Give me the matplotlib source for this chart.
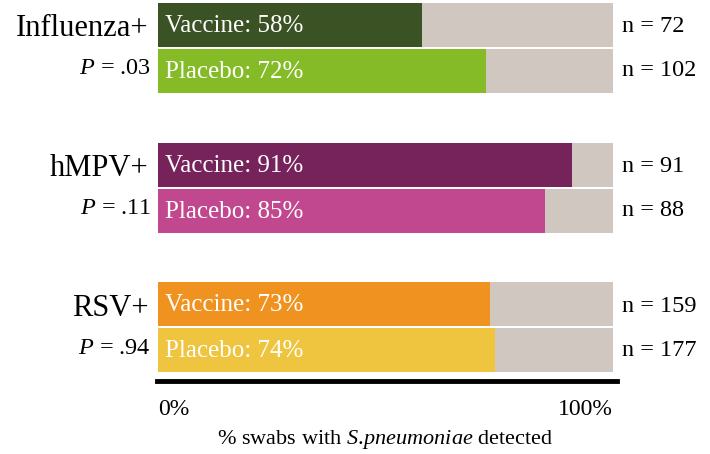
import matplotlib.pyplot as plt

# Datos
grupos = ['Influenza+', 'hMPV+', 'RSV+']
valores_p = ['.03', '.11', '.94']
vacuna = [58, 91, 73]
placebo = [72, 85, 74]
n_vacuna = [72, 91, 159]
n_placebo = [102, 88, 177]
color_vacuna = ['#3b5224', '#76235c', '#ef921f']
color_placebo = ['#84bb27', '#c1488f', '#efc43e']
gris = '#d0c8c0'

plt.rcParams['font.family'] = ['Liberation Serif', 'DejaVu Serif']
plt.rcParams['mathtext.fontset'] = 'custom'
plt.rcParams['mathtext.rm'] = 'Liberation Serif'
plt.rcParams['mathtext.it'] = 'Liberation Serif:italic'

fig = plt.figure(figsize=(7.10, 4.54), dpi=100)
# eje en coordenadas de pixel verticales
ax = fig.add_axes([158 / 710, 0, 455 / 710, 1])
ax.set_xlim(0, 100)
ax.set_ylim(454, 0)

alto = 44
for i, g in enumerate(grupos):
    top = 3 + i * 139.5
    y_vac = top + 22
    y_pla = top + 68
    ax.barh([y_vac, y_pla], [100, 100], height=alto, color=gris)
    ax.barh(y_vac, vacuna[i], height=alto, color=color_vacuna[i])
    ax.barh(y_pla, placebo[i], height=alto, color=color_placebo[i])
    ax.text(1.5, y_vac + 1, f'Vaccine: {vacuna[i]}%', color='white',
            fontsize=18, va='center', ha='left')
    ax.text(1.5, y_pla + 1, f'Placebo: {placebo[i]}%', color='white',
            fontsize=18, va='center', ha='left')
    ax.text(102, y_vac + 2, f'n = {n_vacuna[i]}', fontsize=17.5,
            va='center', ha='left', clip_on=False)
    ax.text(102, y_pla, f'n = {n_placebo[i]}', fontsize=17.5,
            va='center', ha='left', clip_on=False)
    ax.text(-2, y_vac + 4, g, fontsize=22, va='center', ha='right',
            clip_on=False)
    ax.text(-1.5, y_pla - 2, '$P$ = ' + valores_p[i], fontsize=17.5,
            va='center', ha='right', clip_on=False)

for s in ['top', 'left', 'right']:
    ax.spines[s].set_visible(False)
ax.spines['bottom'].set_position(('data', 381))
ax.spines['bottom'].set_linewidth(3.5)
ax.spines['bottom'].set_bounds(-0.3, 100.9)
ax.set_yticks([])
ax.set_xticks([0, 100])
ax.set_xticklabels(['0%', '100%'], fontsize=17)
ax.tick_params(axis='x', length=0, pad=13)
etiquetas = ax.get_xticklabels()
etiquetas[0].set_ha('left')
etiquetas[1].set_ha('right')
ax.set_xlabel('% swabs with $\\it{S.\\!pneumoniae}$ detected', fontsize=16,
              labelpad=6)

fig.savefig('out.png', dpi=100)
